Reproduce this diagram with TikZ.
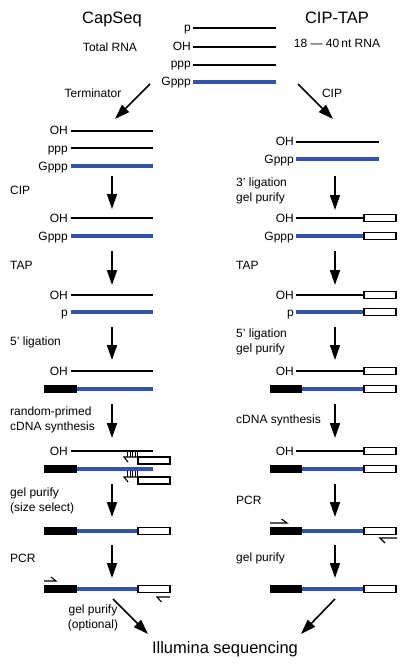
\documentclass[tikz,border=0pt]{standalone}
\usepackage{fontspec}
\setmainfont{Liberation Sans}
\usetikzlibrary{arrows.meta}
\definecolor{rnablue}{RGB}{52,82,168}
\tikzset{
  txt/.style={inner sep=0pt, font=\fontsize{12}{15}\selectfont},
  bigtxt/.style={inner sep=0pt, font=\fontsize{16.5}{19}\selectfont},
  lab/.style={txt, anchor=base east},
  steplab/.style={txt, anchor=base west, align=left},
  rna/.style={line width=1.3pt, black},
  caprna/.style={line width=3.2pt, rnablue},
  adapt/.style={line width=1.4pt, draw=black, fill=white},
  blk/.style={fill=black},
  primer/.style={line width=1.1pt, black},
  flow/.style={line width=1.6pt, -{Triangle[width=10pt,length=15pt]}},
}
\newcommand{\opnbox}[3]{\draw[adapt] (#1,#3-3.5) rectangle (#2,#3+3.5);}
\newcommand{\blkbox}[3]{\fill[blk] (#1,#3-3.7) rectangle (#2,#3+3.7);}
\begin{document}
\begin{tikzpicture}[x=1pt,y=-1pt]
\useasboundingbox (0,0) rectangle (406,666);
% ---------- titles ----------
\node[bigtxt, anchor=base] (capseq) at (112,24) {CapSeq};
\node[bigtxt, anchor=base] (ciptap) at (337,24) {CIP-TAP};
\node[txt, anchor=base] (total) at (110,52) {Total RNA};
\node[txt, anchor=base] (nt) at (337,48) {18 — 40\,nt RNA};
% ---------- input RNA ----------
\node[lab] (i1) at (191,32) {p};
\node[lab] (i2) at (191,51) {OH};
\node[lab] (i3) at (191,68) {ppp};
\node[lab] (i4) at (191,86) {Gppp};
\draw[rna] (193,28) -- (276,28);
\draw[rna] (193,47) -- (276,47);
\draw[rna] (193,65) -- (276,65);
\draw[caprna] (193,82) -- (276,82);
% top split arrows
\coordinate (sL0) at (150,84); \coordinate (sL1) at (115,119);
\coordinate (sR0) at (298,84); \coordinate (sR1) at (333,119);
\draw[flow] (sL0) -- (sL1);
\draw[flow] (sR0) -- (sR1);
\node[txt, anchor=base] (term) at (93,98) {Terminator};
\node[txt, anchor=base] (cipR) at (332,98) {CIP};

% ================= LEFT COLUMN =================
% step 1
\node[lab] (L1a) at (68,135) {OH};
\node[lab] (L1b) at (68,152) {ppp};
\node[lab] (L1c) at (68,170) {Gppp};
\draw[rna] (71,131) -- (153,131);
\draw[rna] (71,148) -- (153,148);
\draw[caprna] (71,166) -- (153,166);
% step 2
\node[steplab] (Ls1) at (10,194) {CIP};
\node[lab] (L2a) at (68,222) {OH};
\node[lab] (L2b) at (68,240) {Gppp};
\draw[rna] (71,218) -- (153,218);
\draw[caprna] (71,236) -- (153,236);
% step 3
\node[steplab] (Ls2) at (10,269) {TAP};
\node[lab] (L3a) at (68,299) {OH};
\node[lab] (L3b) at (68,316) {p};
\draw[rna] (71,295) -- (153,295);
\draw[caprna] (71,312) -- (153,312);
% step 4
\node[steplab] (Ls3) at (10,345) {5' ligation};
\node[lab] (L4a) at (68,375) {OH};
\draw[rna] (71,371) -- (153,371);
\draw[caprna] (77,389) -- (153,389);
\blkbox{44}{77}{389}
% step 5
\node[steplab] (Ls4) at (10,430) {random-primed\\cDNA synthesis};
\node[lab] (L5a) at (68,455) {OH};
\draw[rna] (71,451) -- (153,451);
\draw[caprna] (77,469) -- (153,469);
\blkbox{44}{77}{469}
\draw[adapt] (138,457) rectangle (170,464);
\draw[adapt] (138,477) rectangle (170,484);
\draw[primer] (138,457) -- (124,457) -- (128,462);
\foreach \x in {127.5,130,132.5,135,137.5} \draw[line width=0.7pt] (\x,451.5) -- (\x,457);
\draw[primer] (138,477) -- (124,477) -- (128,482);
\foreach \x in {127.5,130,132.5,135,137.5} \draw[line width=0.7pt] (\x,470.5) -- (\x,477);
% step 6
\node[steplab] (Ls5) at (10,511) {gel purify\\(size select)};
\draw[caprna] (77,531) -- (138,531);
\blkbox{44}{77}{531}
\opnbox{138}{170}{531}
% step 7
\node[steplab] (Ls6) at (10,562) {PCR};
\draw[caprna] (77,589) -- (138,589);
\blkbox{44}{77}{589}
\opnbox{138}{170}{589}
\draw[primer] (44,581) -- (56,581) -- (51,577);
\draw[primer] (170,597) -- (157,597) -- (161.5,602);
% left vertical arrows
\foreach \a/\b [count=\i] in {176/209,251/285,327/360,404/438,484/517,545/578}{
  \coordinate (la\i) at (112,\a); \coordinate (lb\i) at (112,\b);
  \draw[flow] (la\i) -- (lb\i);
}

% ================= RIGHT COLUMN =================
% step 1
\node[lab] (R1a) at (294,146) {OH};
\node[lab] (R1b) at (294,163) {Gppp};
\draw[rna] (296,142) -- (379,142);
\draw[caprna] (296,159) -- (379,159);
% step 2
\node[steplab] (Rs1) at (236,201) {3' ligation\\gel purify};
\node[lab] (R2a) at (294,222) {OH};
\node[lab] (R2b) at (294,240) {Gppp};
\draw[rna] (296,218) -- (364,218);
\draw[caprna] (296,236) -- (364,236);
\opnbox{364}{396}{218}
\opnbox{364}{396}{236}
% step 3
\node[steplab] (Rs2) at (236,269) {TAP};
\node[lab] (R3a) at (294,299) {OH};
\node[lab] (R3b) at (294,316) {p};
\draw[rna] (296,295) -- (364,295);
\draw[caprna] (296,312) -- (364,312);
\opnbox{364}{396}{295}
\opnbox{364}{396}{312}
% step 4
\node[steplab] (Rs3) at (236,352) {5' ligation\\gel purify};
\node[lab] (R4a) at (294,375) {OH};
\draw[rna] (296,371) -- (364,371);
\opnbox{364}{396}{371}
\draw[caprna] (302,389) -- (364,389);
\blkbox{270}{302}{389}
\opnbox{364}{396}{389}
% step 5
\node[steplab] (Rs4) at (236,423) {cDNA synthesis};
\node[lab] (R5a) at (294,455) {OH};
\draw[rna] (296,451) -- (364,451);
\opnbox{364}{396}{451}
\draw[caprna] (302,469) -- (364,469);
\blkbox{270}{302}{469}
\opnbox{364}{396}{469}
% step 6
\node[steplab] (Rs5) at (236,504) {PCR};
\draw[caprna] (302,531) -- (364,531);
\blkbox{270}{302}{531}
\opnbox{364}{396}{531}
\draw[primer] (270,523) -- (287,523) -- (281.5,519);
\draw[primer] (397,538) -- (380,538) -- (385,543);
% step 7
\node[steplab] (Rs6) at (236,561) {gel purify};
\draw[caprna] (302,589) -- (364,589);
\blkbox{270}{302}{589}
\opnbox{364}{396}{589}
% right vertical arrows
\foreach \a/\b [count=\i] in {176/210,251/285,327/360,404/438,484/517,545/578}{
  \coordinate (ra\i) at (335,\a); \coordinate (rb\i) at (335,\b);
  \draw[flow] (ra\i) -- (rb\i);
}

% ================= BOTTOM =================
\node[bigtxt, anchor=base] (illu) at (225,653) {Illumina sequencing};
\node[steplab, align=center, anchor=base] (gpo) at (93,628) {gel purify\\(optional)};
\coordinate (bL0) at (113,599); \coordinate (bL1) at (148,634);
\coordinate (bR0) at (335,599); \coordinate (bR1) at (301,634);
\draw[flow] (bL0) -- (bL1);
\draw[flow] (bR0) -- (bR1);
\end{tikzpicture}
\end{document}
